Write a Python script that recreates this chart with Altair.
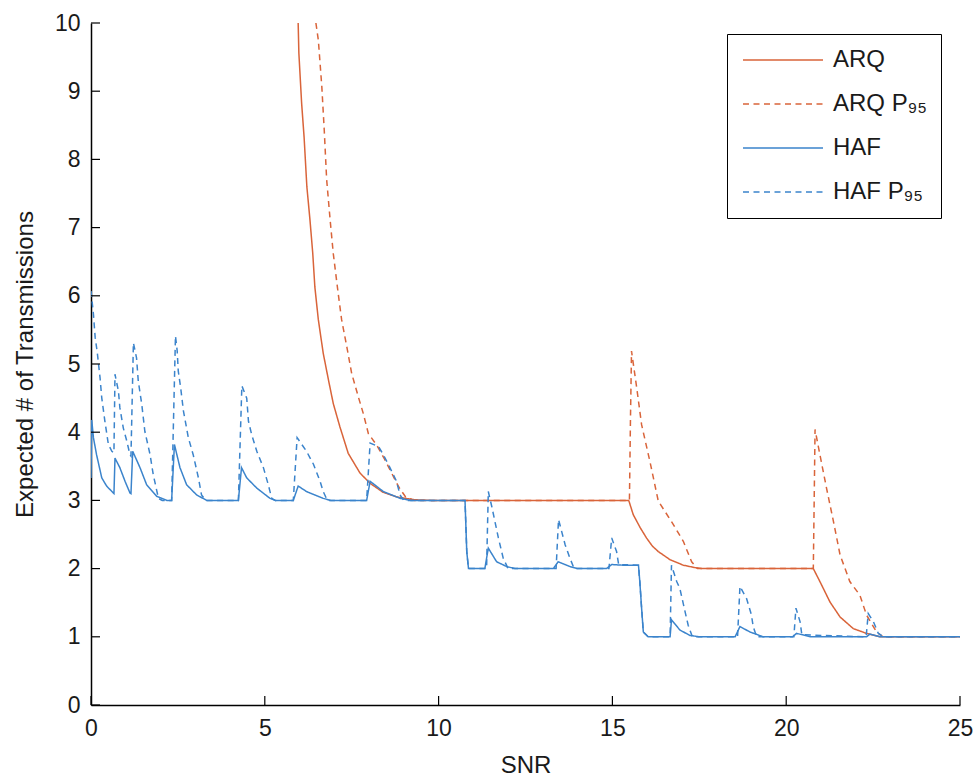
import altair as alt
import pandas as pd

# ---- data ----
arq_x = [5.96, 5.98, 6.06, 6.13, 6.21, 6.30, 6.38, 6.44, 6.54, 6.68, 6.83, 6.97, 7.16, 7.40, 7.74, 8.03, 8.4, 8.8, 9.3, 9.8,
         15.47, 15.6, 15.8, 15.98, 16.15, 16.32, 16.66, 17.04, 17.42, 17.6,
         20.78, 20.97, 21.26, 21.55, 21.93, 22.31, 22.7, 25.0]
arq_y = [10.0, 9.56, 8.82, 8.33, 7.60, 7.11, 6.62, 6.13, 5.65, 5.16, 4.77, 4.42, 4.08, 3.69, 3.40, 3.25, 3.12, 3.05, 3.01, 3.0,
         3.0, 2.79, 2.6, 2.45, 2.33, 2.25, 2.13, 2.05, 2.01, 2.0,
         2.0, 1.81, 1.51, 1.29, 1.12, 1.05, 1.0, 1.0]

arq95_x = [6.47, 6.54, 6.64, 6.71, 6.78, 6.88, 6.97, 7.11, 7.21, 7.36, 7.50, 7.69, 7.83, 7.98, 8.22, 8.45, 8.65, 8.85, 9.05, 9.3,
           15.49, 15.52, 15.55, 15.7, 15.84, 16.08, 16.32, 16.7, 17.04, 17.28, 17.45,
           20.78, 20.81, 20.83, 20.97, 21.16, 21.36, 21.55, 21.83, 22.12, 22.31, 22.6, 22.79, 25.0]
arq95_y = [10.0, 9.75, 9.07, 8.43, 7.70, 7.11, 6.62, 6.04, 5.65, 5.25, 4.86, 4.52, 4.28, 3.98, 3.81, 3.6, 3.4, 3.2, 3.05, 3.0,
           3.0, 4.2, 5.19, 4.65, 4.11, 3.57, 2.99, 2.69, 2.40, 2.1, 2.0,
           2.0, 3.2, 4.04, 3.67, 3.18, 2.69, 2.2, 1.81, 1.61, 1.32, 1.07, 1.0, 1.0]

haf_x = [0.0, 0.02, 0.07, 0.16, 0.31, 0.45, 0.64, 0.66, 0.69, 0.83, 0.98, 1.12, 1.15, 1.20, 1.41, 1.6, 1.89, 2.18, 2.32,
         2.40, 2.56, 2.75, 3.04, 3.33, 4.24, 4.33, 4.48, 4.77, 5.15, 5.3, 5.82, 5.96, 6.2, 6.68, 6.9, 7.93, 8.03, 8.41,
         8.89, 9.2, 10.76, 10.81, 10.86, 11.33, 11.43, 11.67, 11.96, 12.2, 13.3, 13.44, 13.78, 14.0, 14.83, 14.98,
         15.3, 15.75, 15.79, 15.84, 15.89, 16.03, 16.66, 16.7, 16.94, 17.23, 17.5, 18.53, 18.67, 18.96, 19.34,
         20.18, 20.3, 20.7, 22.31, 22.41, 22.7, 25.0]
haf_y = [3.33, 4.18, 3.92, 3.67, 3.33, 3.21, 3.11, 3.10, 3.62, 3.48, 3.28, 3.11, 3.10, 3.72, 3.48, 3.23, 3.06, 3.0, 3.0,
         3.82, 3.48, 3.23, 3.08, 3.0, 3.0, 3.48, 3.33, 3.18, 3.03, 3.0, 3.0, 3.21, 3.13, 3.03, 3.0, 3.0, 3.28, 3.13,
         3.03, 3.0, 3.0, 2.25, 2.0, 2.0, 2.3, 2.10, 2.03, 2.0, 2.0, 2.10, 2.03, 2.0, 2.0, 2.06,
         2.05, 2.05, 1.8, 1.42, 1.07, 1.0, 1.0, 1.25, 1.1, 1.02, 1.0, 1.0, 1.15, 1.07, 1.0,
         1.0, 1.05, 1.0, 1.0, 1.04, 1.0, 1.0]

haf95_x = [0.0, 0.07, 0.12, 0.18, 0.26, 0.31, 0.40, 0.50, 0.60, 0.66, 0.69, 0.79, 0.83, 0.93, 1.03, 1.12, 1.15, 1.22,
           1.31, 1.36, 1.46, 1.55, 1.70, 1.79, 1.94, 2.05, 2.32, 2.43, 2.48, 2.51, 2.58, 2.66, 2.80, 2.94, 3.09, 3.18,
           3.3, 4.24, 4.34, 4.48, 4.53, 4.62, 4.77, 4.96, 5.10, 5.20, 5.3, 5.82, 5.93, 6.2, 6.4, 6.59, 6.68, 6.8,
           7.93, 8.03, 8.27, 8.41, 8.6, 8.79, 8.89, 9.0, 10.76, 10.81, 10.86, 11.38, 11.43, 11.53, 11.72, 11.86, 12.0,
           13.38, 13.45, 13.64, 13.78, 13.9, 14.9, 14.98, 15.12, 15.18, 15.75, 15.79, 15.84, 15.89, 16.03, 16.66,
           16.7, 16.85, 16.94, 17.09, 17.18, 17.3, 18.6, 18.67, 18.86, 19.0, 19.05, 19.15, 20.22, 20.28, 20.4,
           20.45, 22.3, 22.36, 22.51, 22.65, 22.8, 25.0]
haf95_y = [6.07, 5.73, 5.39, 5.17, 4.8, 4.5, 4.16, 3.82, 3.72, 3.70, 4.85, 4.6, 4.36, 4.06, 3.87, 3.67, 3.65, 5.31,
           5.09, 4.75, 4.41, 4.01, 3.67, 3.38, 3.03, 3.0, 3.0, 5.41, 5.19, 4.9, 4.65, 4.31, 3.92, 3.67, 3.33, 3.08,
           3.0, 3.0, 4.68, 4.5, 4.16, 3.97, 3.72, 3.48, 3.23, 3.03, 3.0, 3.0, 3.92, 3.72, 3.53, 3.28, 3.13, 3.0,
           3.0, 3.84, 3.79, 3.67, 3.48, 3.28, 3.08, 3.0, 3.0, 2.25, 2.0, 2.0, 3.13, 2.91, 2.45, 2.15, 2.0,
           2.0, 2.72, 2.35, 2.15, 2.0, 2.0, 2.45, 2.25, 2.06, 2.05, 1.8, 1.42, 1.07, 1.0, 1.0,
           2.05, 1.81, 1.71, 1.37, 1.17, 1.0, 1.0, 1.74, 1.56, 1.32, 1.15, 1.0, 1.0, 1.42, 1.22,
           1.03, 1.0, 1.34, 1.22, 1.05, 1.0, 1.0]

series_names = ["ARQ", "ARQ P\u2089\u2085", "HAF", "HAF P\u2089\u2085"]
series_colors = ["#D9643A", "#D9643A", "#3B84CC", "#3B84CC"]
series_dash = [[1, 0], [6, 4.5], [1, 0], [6, 4.5]]

x_ticks = [0, 5, 10, 15, 20, 25]
y_ticks = [0, 1, 2, 3, 4, 5, 6, 7, 8, 9, 10]

# ---- build table ----
frames = []
for i, (name, xs, ys) in enumerate(zip(series_names,
                                        [arq_x, arq95_x, haf_x, haf95_x],
                                        [arq_y, arq95_y, haf_y, haf95_y])):
    frames.append(pd.DataFrame({"snr": xs, "val": ys, "series": name, "k": i, "o": range(len(xs))}))
df = pd.concat(frames, ignore_index=True)

W, H = 869, 682
FONT = "Liberation Sans"
xscale = alt.Scale(domain=[0, 25], nice=False, zero=False)
yscale = alt.Scale(domain=[0, 10], nice=False, zero=False)
xaxis = alt.Axis(title="SNR", values=x_ticks, tickSize=0, labelPadding=12, titlePadding=13,
                 grid=False, format="d", labelFlush=False)
yaxis = alt.Axis(title="Expected # of Transmissions", values=y_ticks, tickSize=0, labelPadding=11,
                 titlePadding=17, grid=False, format="d", labelFlush=False)

pad_expr = "datum.label + '\u00a0\u00a0\u00a0'"
lines = alt.Chart(df).mark_line(strokeWidth=1.5, clip=True).encode(
    x=alt.X("snr:Q", scale=xscale, axis=xaxis),
    y=alt.Y("val:Q", scale=yscale, axis=yaxis),
    color=alt.Color("series:N", sort=series_names,
                    scale=alt.Scale(domain=series_names, range=series_colors),
                    legend=alt.Legend(title=None, labelExpr=pad_expr)),
    strokeDash=alt.StrokeDash("series:N", sort=series_names,
                              scale=alt.Scale(domain=series_names, range=series_dash),
                              legend=alt.Legend(title=None, labelExpr=pad_expr)),
    detail="k:N",
    order="o:Q",
)

yt = alt.Chart(pd.DataFrame({"val": y_ticks})).mark_rule(color="black", strokeWidth=1.2).encode(
    y=alt.Y("val:Q", scale=yscale, axis=yaxis),
    x=alt.value(0), x2=alt.value(9),
)
xt = alt.Chart(pd.DataFrame({"snr": x_ticks})).mark_rule(color="black", strokeWidth=1.2).encode(
    x=alt.X("snr:Q", scale=xscale, axis=xaxis),
    y=alt.value(H), y2=alt.value(H - 9),
)

chart = alt.layer(lines, yt, xt).properties(
    width=W, height=H,
    autosize=alt.AutoSizeParams(type="none"),
    padding={"left": 91, "top": 23, "right": 977 - 91 - W, "bottom": 780 - 23 - H},
    background="white",
).configure_view(stroke=None).configure_axis(
    domainColor="black", domainWidth=1.5,
    labelFont=FONT, labelFontSize=23, labelColor="#1a1a1a",
    titleFont=FONT, titleFontSize=24, titleColor="#1a1a1a", titleFontWeight="normal",
).configure_legend(
    orient="none", legendX=636, legendY=11,
    strokeColor="black", strokeWidth=1, fillColor="white",
    padding=14, rowPadding=20, labelFont=FONT, labelFontSize=24, labelColor="#1a1a1a",
    symbolType="M-1,0H7", symbolSize=400, symbolStrokeWidth=1.5, labelOffset=68,
    symbolFillColor="transparent",
)

chart.save("out.html", embed_options={"renderer": "svg", "actions": False})
